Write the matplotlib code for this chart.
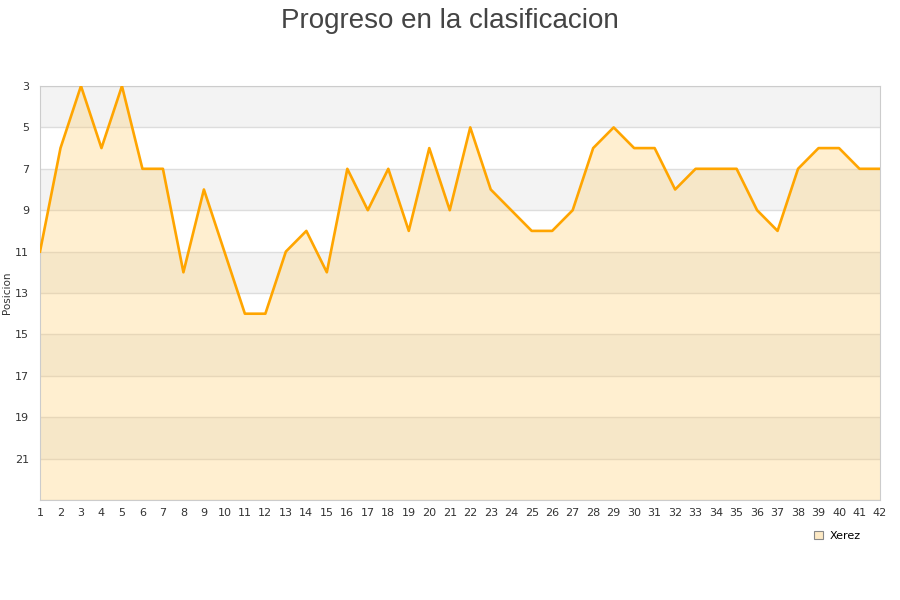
import matplotlib.pyplot as plt

# Jornadas y posicion del Xerez
jornadas = list(range(1, 43))
posicion = [11, 6, 3, 6, 3, 7, 7, 12, 8, 11,
            14, 14, 11, 10, 12, 7, 9, 7, 10, 6,
            9, 5, 8, 9, 10, 10, 9, 6, 5, 6,
            6, 8, 7, 7, 7, 9, 10, 7, 6, 6,
            7, 7]
y_ticks = list(range(3, 22, 2))
y_min, y_max = 3, 23

fig = plt.figure(figsize=(9, 6), dpi=100)
ax = fig.add_axes([40 / 900, 1 - 500 / 600, 840 / 900, 414 / 600])

# alternating bands
for i, t in enumerate(range(y_min, y_max, 2)):
    if i % 2 == 0:
        ax.axhspan(t, t + 2, color="#f3f3f3", zorder=0, lw=0)
for t in range(y_min, y_max + 1, 2):
    ax.axhline(t, color="#dddddd", lw=1, zorder=1)

ax.fill_between(jornadas, posicion, y_max, color="#ffcc66", alpha=0.3, lw=0, zorder=2)
ax.plot(jornadas, posicion, color="#ffa500", lw=1.9, zorder=3, label="Xerez")

ax.set_xlim(1, 42)
ax.set_ylim(y_max, y_min)
ax.set_xticks(jornadas)
ax.set_yticks(y_ticks)
ax.tick_params(axis="both", length=0, labelsize=8, colors="#333333")
ax.tick_params(axis="x", pad=6)
ax.tick_params(axis="y", pad=8)
for s in ax.spines.values():
    s.set_color("#cccccc")
ax.set_ylabel("Posicion", fontsize=7.5, color="#333333", labelpad=2)

fig.text(0.5, 0.987, "Progreso en la clasificacion", ha="center", va="top",
         fontsize=20, color="#444444", family="Liberation Sans")

leg = fig.legend(handles=[plt.Rectangle((0, 0), 1, 1, fc="#fde9c4", ec="#888888", lw=0.8)],
                 labels=["Xerez"], loc="center", bbox_to_anchor=(0.93, 0.107),
                 frameon=False, fontsize=8, handlelength=0.8, handleheight=0.8,
                 handletextpad=0.6)

fig.savefig("out.png", dpi=100)
